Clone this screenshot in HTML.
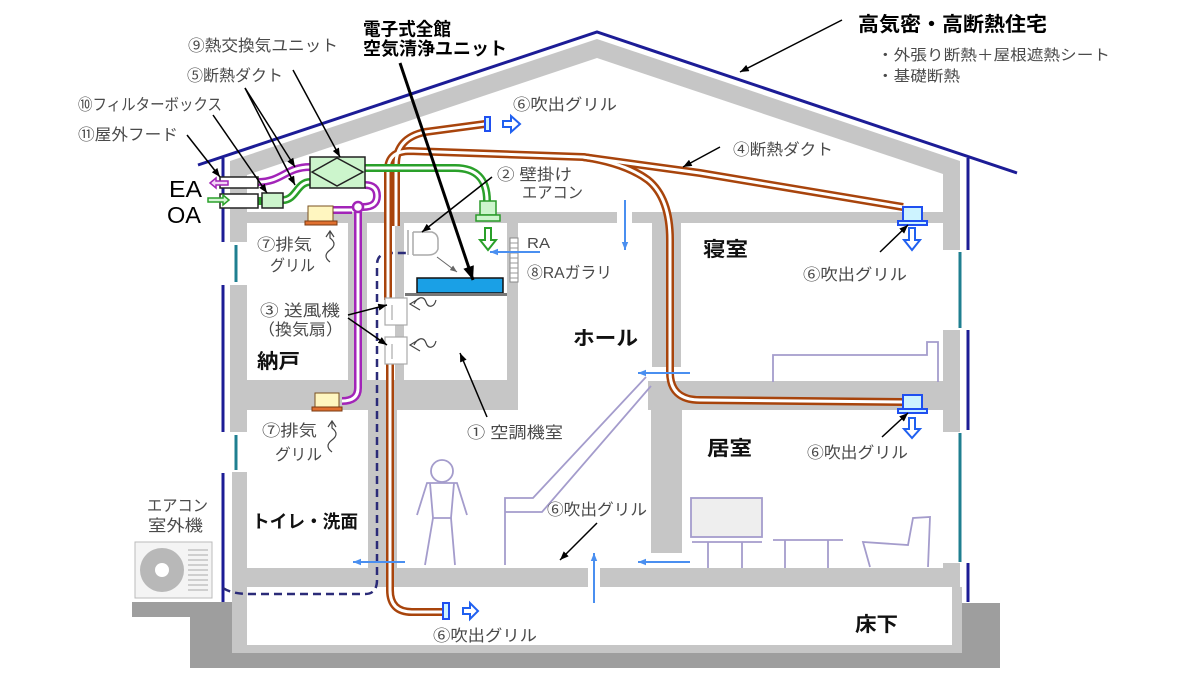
<!DOCTYPE html>
<html><head><meta charset="utf-8"><style>
html,body{margin:0;padding:0;background:#fff;}
svg{display:block;}
text{font-family:"Liberation Sans","Noto Sans CJK JP",sans-serif;}
.l{font-size:16px;fill:#4a4a4a;}
.b{font-size:20px;font-weight:bold;fill:#111;}
</style></head><body>
<svg width="1200" height="675" viewBox="0 0 1200 675" xmlns="http://www.w3.org/2000/svg">
<defs>
<marker id="ah" viewBox="0 0 10 8" refX="10" refY="4" markerWidth="9" markerHeight="7" markerUnits="userSpaceOnUse" orient="auto"><path d="M0,0 L10,4 L0,8 z" fill="#000"/></marker>
<marker id="ahb" viewBox="0 0 10 8" refX="10" refY="4" markerWidth="14" markerHeight="11" markerUnits="userSpaceOnUse" orient="auto"><path d="M0,0 L10,4 L0,8 z" fill="#000"/></marker>
<marker id="ag" viewBox="0 0 10 8" refX="10" refY="4" markerWidth="7" markerHeight="6" markerUnits="userSpaceOnUse" orient="auto"><path d="M0,0 L10,4 L0,8 z" fill="#666"/></marker>
<marker id="bh" viewBox="0 0 10 8" refX="10" refY="4" markerWidth="8" markerHeight="7" markerUnits="userSpaceOnUse" orient="auto"><path d="M0,0 L10,4 L0,8 z" fill="#4a8ff0"/></marker>
</defs>
<rect width="1200" height="675" fill="#fff"/>

<!-- structure -->
<g fill="#c6c6c6">
<polygon points="230,161 597,39 960,161 960,250 943,250 943,174 597,58 247,175 247,242 230,242"/>
<rect x="230" y="212" width="387" height="11"/>
<rect x="632" y="212" width="328" height="11"/>
<rect x="230" y="285" width="17" height="147"/>
<rect x="943" y="330" width="17" height="102"/>
<rect x="348" y="223" width="19" height="158"/>
<rect x="395" y="223" width="9" height="158"/>
<rect x="507" y="223" width="11" height="158"/>
<rect x="652" y="223" width="29" height="144"/>
<rect x="230" y="380" width="288" height="30"/>
<rect x="648" y="381" width="312" height="29"/>
<rect x="368" y="410" width="29" height="158"/>
<rect x="651" y="410" width="31" height="143"/>
<rect x="232" y="472" width="15" height="181"/>
<rect x="232" y="568" width="356" height="19"/>
<rect x="600" y="568" width="360" height="19"/>
<rect x="943" y="563" width="17" height="24"/>
<rect x="952" y="587" width="10" height="66"/>
<rect x="232" y="645" width="730" height="8"/>
</g>
<polygon fill="#9e9e9e" points="132,602 232,602 232,653 962,653 962,603 1000,603 1000,668 190,668 190,617 132,617"/>

<!-- blue outer lines / windows -->
<g stroke="#1c1c96" stroke-width="3" fill="none">
<polyline points="198,165 597,32 1017,173"/>
<line x1="223" y1="158" x2="223" y2="242"/>
<line x1="223" y1="285" x2="223" y2="432"/>
<line x1="223" y1="473" x2="223" y2="602"/>
<line x1="968" y1="158" x2="968" y2="250"/>
<line x1="968" y1="330" x2="968" y2="430"/>
<line x1="968" y1="563" x2="968" y2="602"/>
</g>
<g stroke="#1f7f90" stroke-width="3">
<line x1="236" y1="245" x2="236" y2="282"/>
<line x1="236" y1="435" x2="236" y2="470"/>
<line x1="960" y1="252" x2="960" y2="328"/>
<line x1="960" y1="433" x2="960" y2="562"/>
</g>

<!-- refrigerant dashed -->
<path d="M223,588 Q232,594 250,594 L365,594 Q377,594 377,580 L377,265 Q377,253 390,253 L410,253" stroke="#2b2b78" stroke-width="2.5" stroke-dasharray="8,5" fill="none"/>

<!-- brown ducts -->
<g fill="none" stroke="#a8440c" stroke-width="8">
<path d="M396,226 L396,165 Q396,138 425,132 L485,124"/>
<path d="M388,300 L388,170 Q388,151 410,151 L583,157 L700,173 L903,207"/>
<path d="M583,157 Q625,163 648,180 Q670,198 670,240 L670,372 Q670,400 700,400 L903,402"/>
<path d="M390,360 L390,590 Q390,612 412,612 L443,612"/>
</g>
<g fill="none" stroke="#fff" stroke-width="3">
<path d="M396,226 L396,165 Q396,138 425,132 L485,124"/>
<path d="M388,300 L388,170 Q388,151 410,151 L583,157 L700,173 L903,207"/>
<path d="M583,157 Q625,163 648,180 Q670,198 670,240 L670,372 Q670,400 700,400 L903,402"/>
<path d="M390,360 L390,590 Q390,612 412,612 L443,612"/>
</g>

<!-- purple ducts -->
<g fill="none" stroke="#a224b8" stroke-width="8">
<path d="M258,182 C282,182 286,167 310,167"/>
<path d="M365,185 Q377,185 377,196 Q377,207 363,207"/>
<path d="M352,210 L333,210"/>
<path d="M358,212 L358,388 Q358,401 342,401"/>
</g>
<g fill="none" stroke="#fff" stroke-width="3">
<path d="M258,182 C282,182 286,167 310,167"/>
<path d="M365,185 Q377,185 377,196 Q377,207 363,207"/>
<path d="M352,210 L333,210"/>
<path d="M358,212 L358,388 Q358,401 342,401"/>
</g>
<circle cx="358" cy="207" r="5" fill="#fff" stroke="#a224b8" stroke-width="2.5"/>

<!-- green ducts -->
<g fill="none" stroke="#2aa02a" stroke-width="8">
<path d="M283,200 C296,200 297,182 310,182"/>
<path d="M365,168 L455,168 Q487,168 487,201"/>
<path d="M256,201 L264,201"/>
</g>
<g fill="none" stroke="#fff" stroke-width="3">
<path d="M283,200 C296,200 297,182 310,182"/>
<path d="M365,168 L455,168 Q487,168 487,201"/>
</g>

<!-- units in attic -->
<rect x="220" y="177" width="38" height="11" fill="#fff" stroke="#222" stroke-width="1.5"/>
<rect x="220" y="194" width="38" height="14" fill="#fff" stroke="#222" stroke-width="1.5"/>
<rect x="262" y="193" width="21" height="15" fill="#ccf5cc" stroke="#222" stroke-width="1.5"/>
<rect x="310" y="157" width="55" height="31" fill="#ccf5cc" stroke="#222" stroke-width="1.5"/>
<polygon points="312,172 337,158 363,172 337,186" fill="none" stroke="#222" stroke-width="1.5"/>
<polygon points="210,183 216,178 216,181 228,181 228,185 216,185 216,188" fill="#f3d6f6" stroke="#a224b8" stroke-width="1.5"/>
<polygon points="229,200 223,195 223,198 208,198 208,202 223,202 223,205" fill="#d6f5d6" stroke="#2aa02a" stroke-width="1.5"/>

<!-- green AC indoor -->
<rect x="480" y="201" width="16" height="14" fill="#ccf5cc" stroke="#2a9a2a" stroke-width="1.5"/>
<rect x="476" y="215" width="24" height="6" fill="#ccf5cc" stroke="#2a9a2a" stroke-width="1.5"/>
<polygon points="485,228 491,228 491,240 496,240 488,250 480,240 485,240" fill="#fff" stroke="#2aa02a" stroke-width="2"/>

<!-- exhaust grilles -->
<rect x="308" y="206" width="25" height="15" fill="#fff6c0" stroke="#7a5020" stroke-width="1"/>
<rect x="305" y="221" width="32" height="4" fill="#e07030" stroke="#7a3a10" stroke-width="1"/>
<rect x="315" y="393" width="24" height="14" fill="#fff6c0" stroke="#7a5020" stroke-width="1"/>
<rect x="312" y="407" width="30" height="4" fill="#e07030" stroke="#7a3a10" stroke-width="1"/>

<!-- supply grilles -->
<g fill="#cdf3ff" stroke="#1f4ff0" stroke-width="2">
<rect x="903" y="207" width="19" height="14"/>
<rect x="898" y="221" width="29" height="4"/>
<rect x="903" y="395" width="19" height="14"/>
<rect x="898" y="409" width="29" height="4"/>
<rect x="485" y="117" width="5" height="14"/>
<rect x="443" y="603" width="6" height="16"/>
</g>
<g fill="#fff" stroke="#2060f0" stroke-width="2">
<polygon points="909,228 915,228 915,240 920,240 912,250 904,240 909,240"/>
<polygon points="909,418 915,418 915,429 920,429 912,438 904,429 909,429"/>
<polygon points="503,121 511,121 511,116 520,124 511,132 511,127 503,127"/>
<polygon points="463,608 470,608 470,603 478,611 470,619 470,614 463,614"/>
</g>

<!-- machine room -->
<path d="M408,230 L408,255 M413,232 L413,255 M413,232 L432,232 Q438,234 438,240 L438,249 Q436,255 428,255 L413,255" stroke="#aaa" stroke-width="1.5" fill="none"/>
<line x1="437" y1="257" x2="457" y2="272" stroke="#666" stroke-width="1" marker-end="url(#ag)"/>
<rect x="417" y="278" width="86" height="15" fill="#1aa0e6" stroke="#111" stroke-width="1.5"/>
<rect x="405" y="293" width="102" height="3" fill="#777"/>
<g fill="#fff" stroke="#aaa" stroke-width="1.2">
<rect x="385" y="298" width="22" height="27"/>
<rect x="385" y="337" width="22" height="27"/>
<line x1="392" y1="305" x2="392" y2="320"/><line x1="392" y1="344" x2="392" y2="359"/>
</g>
<g fill="none" stroke="#444" stroke-width="1.2">
<path d="M420,298 L410,304 L420,310 M414,304 C418,296 424,296 426,302 C428,308 434,308 436,300"/>
<path d="M420,339 L410,345 L420,351 M414,345 C418,337 424,337 426,343 C428,349 434,349 436,341"/>
</g>
<rect x="510" y="238" width="8" height="44" fill="#fff" stroke="#888" stroke-width="1"/>
<g stroke="#999" stroke-width="1">
<line x1="510" y1="243" x2="518" y2="243"/><line x1="510" y1="248" x2="518" y2="248"/><line x1="510" y1="253" x2="518" y2="253"/><line x1="510" y1="258" x2="518" y2="258"/><line x1="510" y1="263" x2="518" y2="263"/><line x1="510" y1="268" x2="518" y2="268"/><line x1="510" y1="273" x2="518" y2="273"/><line x1="510" y1="278" x2="518" y2="278"/>
</g>

<!-- airflow arrows -->
<g stroke="#4a8ff0" stroke-width="2" marker-end="url(#bh)">
<line x1="625" y1="200" x2="625" y2="250"/>
<line x1="540" y1="252" x2="490" y2="252"/>
<line x1="690" y1="373" x2="638" y2="373"/>
<line x1="690" y1="562" x2="638" y2="562"/>
<line x1="594" y1="603" x2="594" y2="553"/>
<line x1="405" y1="562" x2="353" y2="562"/>
</g>

<!-- squiggle exhaust symbols -->
<g fill="none" stroke="#444" stroke-width="1.2">
<path d="M330,262 Q322,256 330,250 Q338,244 330,238 L330,232 M326,237 L330,231 L334,237"/>
<path d="M332,452 Q324,446 332,440 Q340,434 332,428 L332,422 M328,427 L332,421 L336,427"/>
</g>

<!-- furniture -->
<g fill="none" stroke="#a49ccc" stroke-width="1.8">
<polyline points="773,382 773,355 927,355 927,342 938,342 938,382"/>
<circle cx="442" cy="471" r="11"/>
<polyline points="417,515 427,483 457,483 467,515"/>
<polyline points="430,483 433,518 451,518 454,483"/>
<polyline points="425,565 433,518"/><polyline points="455,565 451,518"/>
<polyline points="505,565 505,498 533,498 646,377"/>
<polyline points="505,512 542,512 651,386"/>
<rect x="691" y="498" width="71" height="39" fill="#eeeeee"/>
<line x1="692" y1="542" x2="762" y2="542"/>
<line x1="708" y1="542" x2="708" y2="568"/><line x1="742" y1="542" x2="742" y2="568"/>
<line x1="773" y1="540" x2="843" y2="540"/>
<line x1="785" y1="540" x2="785" y2="568"/><line x1="828" y1="540" x2="828" y2="568"/>
<polyline points="870,567 863,542 908,545 913,518 930,517 928,567"/>
</g>

<!-- outdoor unit -->
<rect x="135" y="542" width="77" height="56" fill="#f4f4f4" stroke="#bbb" stroke-width="1"/>
<circle cx="162" cy="570" r="22" fill="#b8b8b8"/>
<circle cx="162" cy="570" r="7" fill="#fff"/>
<g stroke="#aaa" stroke-width="1">
<line x1="188" y1="550" x2="208" y2="550"/><line x1="188" y1="555" x2="208" y2="555"/><line x1="188" y1="560" x2="208" y2="560"/><line x1="188" y1="565" x2="208" y2="565"/><line x1="188" y1="570" x2="208" y2="570"/><line x1="188" y1="575" x2="208" y2="575"/><line x1="188" y1="580" x2="208" y2="580"/><line x1="188" y1="585" x2="208" y2="585"/><line x1="188" y1="590" x2="208" y2="590"/>
</g>

<!-- label arrows -->
<g stroke="#000" stroke-width="1.5" marker-end="url(#ah)">
<line x1="293" y1="70" x2="340" y2="157"/>
<line x1="245" y1="88" x2="295" y2="167"/>
<line x1="245" y1="88" x2="295" y2="185"/>
<line x1="213" y1="115" x2="267" y2="193"/>
<line x1="187" y1="135" x2="220" y2="177"/>
<line x1="842" y1="20" x2="740" y2="72"/>
<line x1="720" y1="147" x2="683" y2="167"/>
<line x1="492" y1="177" x2="422" y2="232"/>
<line x1="880" y1="252" x2="908" y2="225"/>
<line x1="882" y1="437" x2="908" y2="413"/>
<line x1="597" y1="523" x2="560" y2="560"/>
<line x1="487" y1="417" x2="460" y2="353"/>
<line x1="348" y1="315" x2="387" y2="305"/>
<line x1="348" y1="318" x2="387" y2="345"/>
</g>
<line x1="400" y1="63" x2="473" y2="280" stroke="#000" stroke-width="3" marker-end="url(#ahb)"/>

<!-- texts -->
<text x="363" y="35.5" style="font-size:18px;font-weight:bold;fill:#000" textLength="88" lengthAdjust="spacingAndGlyphs">電子式全館</text>
<text x="363" y="55" style="font-size:18px;font-weight:bold;fill:#000" textLength="144" lengthAdjust="spacingAndGlyphs">空気清浄ユニット</text>
<text x="858" y="31" style="font-size:20px;font-weight:bold;fill:#000" textLength="189" lengthAdjust="spacingAndGlyphs">高気密・高断熱住宅</text>
<text x="877" y="60" class="l" style="font-size:15px" textLength="233" lengthAdjust="spacingAndGlyphs">・外張り断熱＋屋根遮熱シート</text>
<text x="877" y="81" class="l" style="font-size:15px" textLength="83" lengthAdjust="spacingAndGlyphs">・基礎断熱</text>
<text x="188" y="51" class="l" textLength="150" lengthAdjust="spacingAndGlyphs">⑨熱交換気ユニット</text>
<text x="187" y="81" class="l" textLength="96" lengthAdjust="spacingAndGlyphs">⑤断熱ダクト</text>
<text x="78" y="110" class="l" textLength="144" lengthAdjust="spacingAndGlyphs">⑩フィルターボックス</text>
<text x="78" y="140" class="l" textLength="100" lengthAdjust="spacingAndGlyphs">⑪屋外フード</text>
<text x="169" y="197" style="font-size:23px;fill:#000" textLength="33" lengthAdjust="spacingAndGlyphs">EA</text>
<text x="167" y="223" style="font-size:23px;fill:#000" textLength="34" lengthAdjust="spacingAndGlyphs">OA</text>
<text x="513" y="110" class="l" textLength="104" lengthAdjust="spacingAndGlyphs">⑥吹出グリル</text>
<text x="733" y="155" class="l" textLength="100" lengthAdjust="spacingAndGlyphs">④断熱ダクト</text>
<text x="497" y="180" class="l" textLength="75" lengthAdjust="spacingAndGlyphs">② 壁掛け</text>
<text x="522" y="198" class="l" textLength="61" lengthAdjust="spacingAndGlyphs">エアコン</text>
<text x="527" y="248" class="l" style="font-size:15px" textLength="23" lengthAdjust="spacingAndGlyphs">RA</text>
<text x="527" y="278" class="l" textLength="85" lengthAdjust="spacingAndGlyphs">⑧RAガラリ</text>
<text x="703" y="256" class="b" textLength="45" lengthAdjust="spacingAndGlyphs">寝室</text>
<text x="803" y="280" class="l" textLength="104" lengthAdjust="spacingAndGlyphs">⑥吹出グリル</text>
<text x="573" y="345" class="b" textLength="65" lengthAdjust="spacingAndGlyphs">ホール</text>
<text x="707" y="455" class="b" textLength="45" lengthAdjust="spacingAndGlyphs">居室</text>
<text x="807" y="458" class="l" textLength="101" lengthAdjust="spacingAndGlyphs">⑥吹出グリル</text>
<text x="855" y="631" class="b" textLength="43" lengthAdjust="spacingAndGlyphs">床下</text>
<text x="547" y="515" class="l" textLength="100" lengthAdjust="spacingAndGlyphs">⑥吹出グリル</text>
<text x="467" y="438" class="l" textLength="96" lengthAdjust="spacingAndGlyphs">① 空調機室</text>
<text x="257" y="250" class="l" textLength="55" lengthAdjust="spacingAndGlyphs">⑦排気</text>
<text x="270" y="271" class="l" textLength="45" lengthAdjust="spacingAndGlyphs">グリル</text>
<text x="260" y="316" class="l" textLength="80" lengthAdjust="spacingAndGlyphs">③ 送風機</text>
<text x="258" y="335" class="l" textLength="85" lengthAdjust="spacingAndGlyphs">（換気扇）</text>
<text x="257" y="368" class="b" textLength="43" lengthAdjust="spacingAndGlyphs">納戸</text>
<text x="262" y="436" class="l" textLength="55" lengthAdjust="spacingAndGlyphs">⑦排気</text>
<text x="275" y="460" class="l" textLength="47" lengthAdjust="spacingAndGlyphs">グリル</text>
<text x="252" y="528" class="b" style="font-size:18px" textLength="106" lengthAdjust="spacingAndGlyphs">トイレ・洗面</text>
<text x="147" y="511" class="l" textLength="61" lengthAdjust="spacingAndGlyphs">エアコン</text>
<text x="148" y="531" class="l" textLength="55" lengthAdjust="spacingAndGlyphs">室外機</text>
<text x="433" y="641" class="l" textLength="104" lengthAdjust="spacingAndGlyphs">⑥吹出グリル</text>
</svg>
</body></html>
